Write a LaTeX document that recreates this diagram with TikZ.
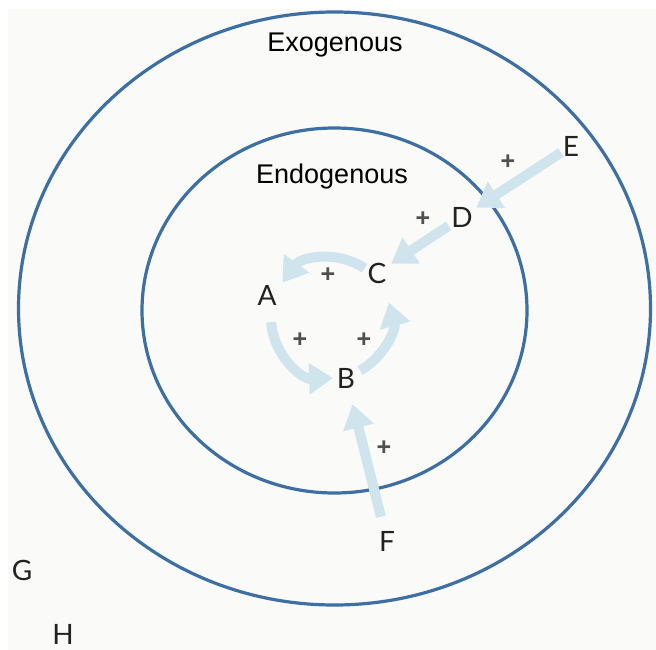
\documentclass[tikz,border=0pt]{standalone}
\usepackage{fontspec}
\setmainfont{Liberation Sans}
\newfontfamily\letterfont{Lato}
\usetikzlibrary{arrows.meta}
\definecolor{ringblue}{HTML}{3D6FA3}
\definecolor{flowblue}{HTML}{D0E4EE}
\definecolor{pluscol}{HTML}{505050}
\definecolor{bgcol}{HTML}{FAFAF8}
\definecolor{lettercol}{HTML}{222222}
\begin{document}
\begin{tikzpicture}[x=1pt,y=-1pt,
  ring/.style={draw=ringblue, line width=3.2pt},
  flow/.style={draw=flowblue, line width=10pt, -{Triangle[width=30pt,length=24pt]}},
  letter/.style={font=\letterfont\fontsize{28}{30}\selectfont, text=lettercol, inner sep=0pt},
  plus/.style={font=\bfseries\fontsize{25}{27}\selectfont, text=pluscol, inner sep=0pt},
  title/.style={font=\fontsize{27}{29}\selectfont, text=black, inner sep=0pt}]
\useasboundingbox (0,0) rectangle (656,650);
\fill[white] (0,0) rectangle (656,650);
\fill[bgcol] (8,9) rectangle (656,650);
% rings
\draw[ring] (334.5,308.5) ellipse [x radius=316pt, y radius=296.5pt];
\draw[ring] (334.5,310.5) ellipse [x radius=192.5pt, y radius=182.5pt];
% titles
\node[title] (exo) at (335,45) {Exogenous};
\node[title] (endo) at (332,177) {Endogenous};
% letters
\node[letter] (A) at (267,295) {A};
\node[letter] (B) at (346,378) {B};
\node[letter] (C) at (377,273) {C};
\node[letter] (D) at (462,217) {D};
\node[letter] (E) at (571,146) {E};
\node[letter] (F) at (387,541) {F};
\node[letter] (G) at (22,570) {G};
\node[letter] (H) at (63,634) {H};
% loop centre
\coordinate (loop) at (331,318);
% straight flows
\draw[flow, shorten <=12pt, shorten >=17pt] (E.center) -- (D.center);
\draw[flow, shorten <=16pt, shorten >=17pt] (D.center) -- (C.center);
\draw[flow, shorten <=25pt, shorten >=27pt] (F.center) -- (B.center);
% loop flows
\draw[flow] ([shift={(176:60)}]loop) arc[start angle=176, end angle=88, radius=60];
\draw[flow] ([shift={(61:60)}]loop) arc[start angle=61, end angle=-15, radius=60];
\draw[flow] ([shift={(-56:60)}]loop) arc[start angle=-56, end angle=-144, radius=60];
% plus signs
\node[plus] (p1) at (328,275) {+};
\node[plus] (p2) at (300,340) {+};
\node[plus] (p3) at (364,340) {+};
\node[plus] (p4) at (423,219) {+};
\node[plus] (p5) at (508,162) {+};
\node[plus] (p6) at (384,448) {+};
\end{tikzpicture}
\end{document}
